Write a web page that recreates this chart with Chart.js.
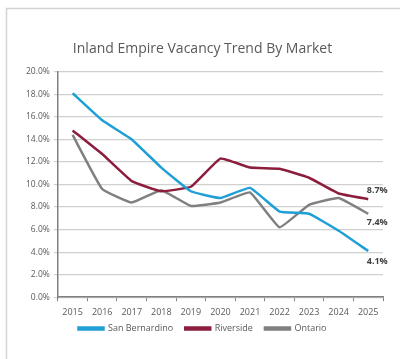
<!DOCTYPE html>
<html><head><meta charset="utf-8">
<script src="https://cdn.jsdelivr.net/npm/chart.js@4/dist/chart.umd.min.js"></script>
<style>html,body{margin:0;padding:0;background:#fff;}canvas{display:block;}</style>
</head><body>
<canvas id="c" width="400" height="359"></canvas>
<script>
const years = ['2015','2016','2017','2018','2019','2020','2021','2022','2023','2024','2025'];
const sanBernardino = [18.1, 15.7, 14.0, 11.5, 9.4, 8.8, 9.7, 7.6, 7.4, 5.9, 4.1];
const riverside = [14.8, 12.7, 10.3, 9.4, 9.8, 12.3, 11.5, 11.4, 10.6, 9.2, 8.7];
const ontario = [14.4, 9.6, 8.4, 9.5, 8.1, 8.4, 9.3, 6.2, 8.2, 8.8, 7.4];
const yTicks = [0, 2, 4, 6, 8, 10, 12, 14, 16, 18, 20];

const frame = {
  id: 'frame',
  beforeDraw(chart) {
    const ctx = chart.ctx;
    ctx.save();
    ctx.fillStyle = '#fff';
    ctx.fillRect(0, 0, chart.width, chart.height);
    ctx.strokeStyle = '#d4d4d4';
    ctx.lineWidth = 1.5;
    ctx.beginPath();
    ctx.moveTo(6.5, chart.height);
    ctx.lineTo(6.5, 8.5);
    ctx.lineTo(chart.width, 8.5);
    ctx.stroke();
    ctx.restore();
  }
};

// move the legend a few pixels up, closer to the axis labels
const legendShift = {
  id: 'legendShift',
  afterLayout(chart) {
    if (chart.legend) {
      chart.legend.top -= 7;
      chart.legend.bottom -= 7;
    }
  }
};

const endLabels = {
  id: 'endLabels',
  afterDatasetsDraw(chart) {
    const ctx = chart.ctx;
    const offsets = [[9, 10], [9, -9], [9, 9]];
    ctx.save();
    ctx.font = 'bold 9px "Open Sans", sans-serif';
    ctx.fillStyle = '#404040';
    ctx.textAlign = 'center';
    ctx.textBaseline = 'middle';
    chart.data.datasets.forEach((ds, i) => {
      const meta = chart.getDatasetMeta(i);
      const last = meta.data[meta.data.length - 1];
      const v = ds.data[ds.data.length - 1];
      ctx.fillText(v.toFixed(1) + '%', last.x + offsets[i][0], last.y + offsets[i][1]);
    });
    ctx.restore();
  }
};

new Chart(document.getElementById('c'), {
  type: 'line',
  data: {
    labels: years,
    datasets: [
      { label: 'San Bernardino', data: sanBernardino, borderColor: '#1f9fd6', backgroundColor: '#1f9fd6', borderWidth: 2.5, pointRadius: 0, tension: 0.1 },
      { label: 'Riverside', data: riverside, borderColor: '#8c1d3c', backgroundColor: '#8c1d3c', borderWidth: 2.5, pointRadius: 0, tension: 0.1 },
      { label: 'Ontario', data: ontario, borderColor: '#808080', backgroundColor: '#808080', borderWidth: 2.5, pointRadius: 0, tension: 0.1 }
    ]
  },
  options: {
    responsive: false,
    animation: false,
    devicePixelRatio: 1,
    layout: { padding: { left: 22, right: 17, top: 41, bottom: 9 } },
    plugins: {
      title: {
        display: true,
        text: 'Inland Empire Vacancy Trend By Market',
        color: '#595959',
        font: { family: '"Open Sans", sans-serif', size: 14, weight: 'normal' },
        padding: { top: 0, bottom: 14 }
      },
      legend: {
        position: 'bottom',
        labels: {
          color: '#595959',
          font: { family: '"Open Sans", sans-serif', size: 9 },
          boxWidth: 25,
          boxHeight: 2,
          padding: 12
        }
      },
      tooltip: { enabled: false }
    },
    scales: {
      x: {
        offset: true,
        afterFit(axis) { axis.height = axis.height - 5; },
        grid: { offset: true, drawOnChartArea: false, drawTicks: true, tickLength: 4, color: '#808080' },
        border: { color: '#808080', width: 1.5 },
        ticks: { color: '#595959', font: { family: '"Open Sans", sans-serif', size: 9 }, padding: 6, maxRotation: 0 }
      },
      y: {
        min: 0, max: 20,
        afterBuildTicks(axis) { axis.ticks = yTicks.map(v => ({ value: v })); },
        grid: { color: '#d0d0d0', lineWidth: 1.2, drawTicks: true, tickLength: 4 },
        border: { color: '#808080', width: 1.5 },
        ticks: {
          color: '#595959',
          font: { family: '"Open Sans", sans-serif', size: 8.5 },
          padding: 4,
          callback: v => Number(v).toFixed(1) + '%'
        }
      }
    }
  },
  plugins: [frame, legendShift, endLabels]
});
</script>
</body></html>
